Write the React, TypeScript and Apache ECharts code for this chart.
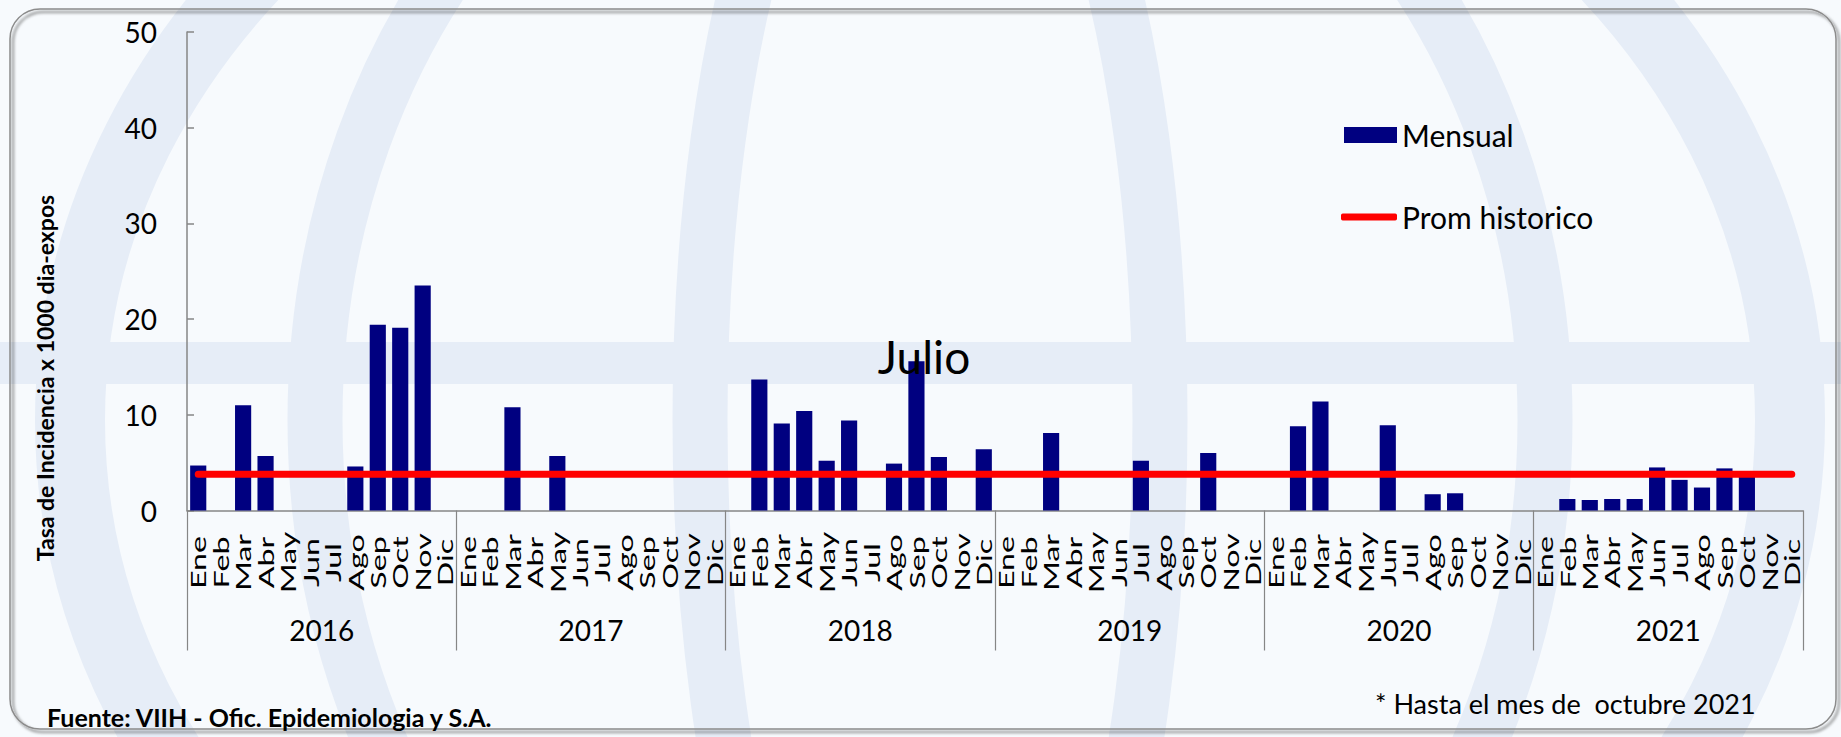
import React, { useEffect, useRef } from "react";
import * as echarts from "echarts";

const MONTHS = ["Ene", "Feb", "Mar", "Abr", "May", "Jun", "Jul", "Ago", "Sep", "Oct", "Nov", "Dic"];
const YEARS = ["2016", "2017", "2018", "2019", "2020", "2021"];

const V2016 = [4.7, 0, 11.0, 5.7, 0, 0, 0, 4.6, 19.4, 19.1, 23.5, 0];
const V2017 = [0, 0, 10.8, 0, 5.7, 0, 0, 0, 0, 0, 0, 0];
const V2018 = [0, 13.7, 9.1, 10.4, 5.2, 9.4, 0, 4.9, 15.6, 5.6, 0, 6.4];
const V2019 = [0, 0, 8.1, 0, 0, 0, 5.2, 0, 0, 6.0, 0, 0];
const V2020 = [0, 8.8, 11.4, 0, 0, 8.9, 0, 1.7, 1.8, 0, 0, 0];
const V2021 = [0, 1.2, 1.1, 1.2, 1.2, 4.5, 3.2, 2.4, 4.4, 3.6, 0, 0];

const PROM_HISTORICO = 3.8;

const Y_MIN = 0;
const Y_MAX = 50;
const Y_INTERVAL = 10;

const FONT = "Lato, 'Open Sans', sans-serif";

export default function App() {
  const ref = useRef<HTMLDivElement>(null);

  useEffect(() => {
    document.body.style.margin = "0";
    const chart = echarts.init(ref.current as HTMLDivElement, null, { renderer: "svg" });

    const categories: string[] = [];
    YEARS.forEach((y) => MONTHS.forEach((m) => categories.push(m + "-" + y)));
    const monthly = [...V2016, ...V2017, ...V2018, ...V2019, ...V2020, ...V2021];
    const prom = categories.map(() => PROM_HISTORICO);

    const wm = "#E6EDF7";
    const txt = (extra: any) => ({
      fill: "#000",
      fontFamily: FONT,
      ...extra,
    });

    const option: any = {
      animation: false,
      textStyle: { fontFamily: FONT },
      grid: { left: 187, right: 38, top: 32, bottom: 226.5, containLabel: false },
      legend: [
        {
          data: [{ name: "Mensual", icon: "rect" }],
          left: 1344,
          top: 120,
          padding: 0,
          itemWidth: 53,
          itemHeight: 16,
          itemStyle: { color: "#000080" },
          textStyle: { fontSize: 30, lineHeight: 30, color: "#000", fontFamily: FONT },
        },
        {
          data: [{ name: "Prom historico", icon: "roundRect" }],
          left: 1341,
          top: 202,
          padding: 0,
          itemWidth: 56,
          itemHeight: 7,
          itemStyle: { color: "#FF0000", borderWidth: 0 },
          lineStyle: { width: 0 },
          textStyle: { fontSize: 30, lineHeight: 30, color: "#000", fontFamily: FONT },
        },
      ],
      xAxis: [
        {
          type: "category",
          data: categories,
          position: "bottom",
          axisLine: { lineStyle: { color: "#868686", width: 1.5 } },
          axisTick: { show: false },
          axisLabel: { show: false },
          splitLine: { show: false },
        },
        {
          type: "category",
          data: YEARS,
          position: "bottom",
          axisLine: { show: false },
          axisTick: { show: true, interval: 0, length: 140, lineStyle: { color: "#868686", width: 1.2 } },
          axisLabel: { interval: 0, fontSize: 28, color: "#000", margin: 105, fontFamily: FONT },
          splitLine: { show: false },
        },
      ],
      yAxis: {
        type: "value",
        min: Y_MIN,
        max: Y_MAX,
        interval: Y_INTERVAL,
        axisLine: { show: true, lineStyle: { color: "#868686", width: 1.5 } },
        axisTick: { show: true, inside: true, length: 7, lineStyle: { color: "#868686", width: 1.5 } },
        splitLine: { show: false },
        axisLabel: { fontSize: 28, color: "#000", margin: 30, fontFamily: FONT },
      },
      series: [
        {
          name: "Mensual",
          type: "bar",
          data: monthly,
          barCategoryGap: "28%",
          itemStyle: { color: "#000080" },
          z: 2,
        },
        {
          name: "Prom historico",
          type: "line",
          data: prom,
          symbol: "none",
          showSymbol: false,
          lineStyle: { color: "#FF0000", width: 7, cap: "round" },
          itemStyle: { color: "#FF0000" },
          z: 5,
        },
      ],
      graphic: [
        { id: "bg", type: "rect", z: -30, silent: true, shape: { x: 0, y: 0, width: 1841, height: 737 }, style: { fill: "#F7FAFD" } },
        { id: "w1", type: "ellipse", z: -25, silent: true, shape: { cx: 930, cy: 420, rx: 860, ry: 720 }, style: { fill: "none", stroke: wm, lineWidth: 70 } },
        { id: "w2", type: "ellipse", z: -25, silent: true, shape: { cx: 930, cy: 420, rx: 615, ry: 720 }, style: { fill: "none", stroke: wm, lineWidth: 55 } },
        { id: "w3", type: "ellipse", z: -25, silent: true, shape: { cx: 930, cy: 420, rx: 230, ry: 720 }, style: { fill: "none", stroke: wm, lineWidth: 55 } },
        { id: "w4", type: "rect", z: -25, silent: true, shape: { x: 0, y: 342, width: 1841, height: 42 }, style: { fill: wm } },
        {
          id: "card",
          type: "rect",
          z: -20,
          silent: true,
          shape: { x: 10, y: 9, width: 1826, height: 720, r: 30 },
          style: {
            fill: "none",
            stroke: "#8c8c8c",
            lineWidth: 1.5,
            shadowBlur: 3,
            shadowOffsetX: 3,
            shadowOffsetY: 3,
            shadowColor: "rgba(0,0,0,0.6)",
          },
        },
        {
          id: "ytitle",
          type: "text",
          z: 10,
          x: 45,
          y: 378,
          rotation: Math.PI / 2,
          style: txt({
            text: "Tasa de Incidencia x 1000 dia-expos",
            fontSize: 23,
            fontWeight: "bold",
            align: "center",
            verticalAlign: "middle",
          }),
        },
        {
          id: "julio",
          type: "text",
          z: 10,
          x: 924,
          y: 356,
          style: txt({ text: "Julio", fontSize: 46, align: "center", verticalAlign: "middle" }),
        },
        {
          id: "fuente",
          type: "text",
          z: 10,
          x: 47,
          y: 717,
          style: txt({
            text: "Fuente: VIIH - Ofic. Epidemiologia y S.A.",
            fontSize: 25,
            fontWeight: "bold",
            align: "left",
            verticalAlign: "middle",
          }),
        },
        {
          id: "hasta",
          type: "text",
          z: 10,
          x: 1375,
          y: 703,
          style: txt({ text: "* Hasta el mes de  octubre 2021", fontSize: 27, align: "left", verticalAlign: "middle" }),
        },
      ],
    };

    chart.setOption(option);

    // Month labels, stretched along their length like the original, placed through the axis scale
    const monthLabels = categories.map((c, i) => {
      const px = chart.convertToPixel({ xAxisIndex: 0 }, c) as number;
      const py = chart.convertToPixel({ yAxisIndex: 0 }, Y_MIN) as number;
      return {
        id: "month" + i,
        type: "text",
        z: 10,
        x: px,
        y: py + 52,
        rotation: Math.PI / 2,
        scaleX: 1.5,
        scaleY: 1,
        style: {
          text: c.split("-")[0],
          fontSize: 21.5,
          fontFamily: FONT,
          fill: "#000",
          align: "center",
          verticalAlign: "middle",
        },
      };
    });
    chart.setOption({ graphic: monthLabels });

    return () => {
      chart.dispose();
    };
  }, []);

  return <div ref={ref} style={{ width: 1841, height: 737 }} />;
}
